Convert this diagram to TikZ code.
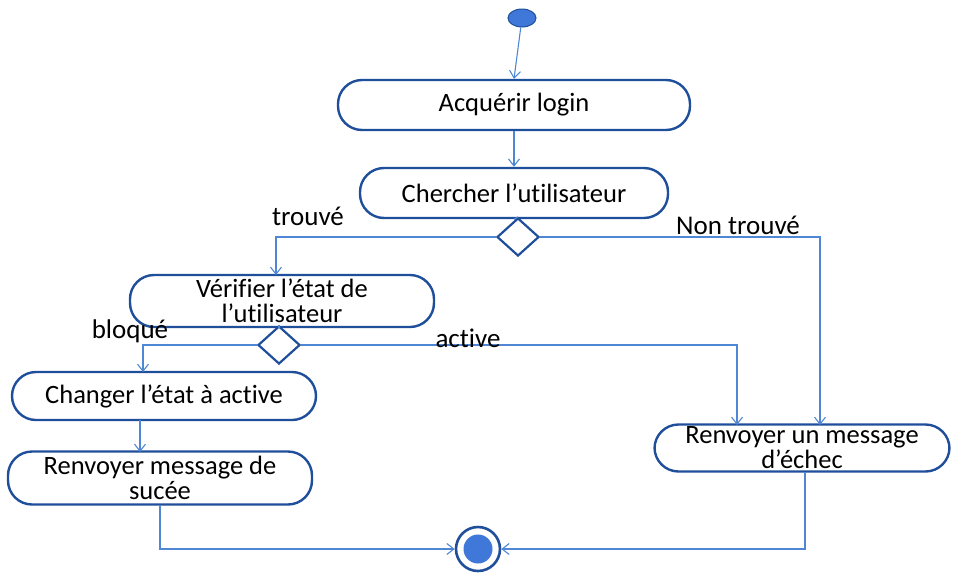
\documentclass[tikz,border=0pt]{standalone}
\usepackage{fontspec}
\setmainfont{Carlito}[Ligatures=NoCommon]
\usetikzlibrary{shapes.geometric,arrows.meta}
\definecolor{edgeblue}{HTML}{1F4E9A}
\definecolor{flowblue}{HTML}{4F87D4}
\definecolor{dotblue}{HTML}{3F78D8}
\tikzset{
  act/.style={draw=edgeblue, line width=2.4pt, rounded corners=24pt, align=center,
              font=\fontsize{26.5}{25}\selectfont, inner sep=0pt},
  choice/.style={diamond, draw=edgeblue, line width=2.2pt, inner sep=0pt,
                 minimum width=42pt, minimum height=38pt},
  flow/.style={draw=flowblue, line width=1.1pt, -{Straight Barb[length=7pt,width=11pt]}},
  plain/.style={draw=flowblue, line width=1.1pt},
  guard/.style={font=\fontsize{27}{28}\selectfont, inner sep=0pt}
}
\begin{document}
\begin{tikzpicture}[x=1pt,y=-1pt]
\useasboundingbox (0,0) rectangle (953,576);

% initial and final states
\node[ellipse, fill=dotblue, draw=edgeblue, line width=1pt,
      minimum width=28pt, minimum height=18pt, inner sep=0pt] (start) at (522,18) {};
\node[circle, draw=edgeblue, line width=2.6pt, minimum size=44pt, inner sep=0pt] (stop) at (478,549) {};
\node[circle, fill=dotblue, minimum size=29pt, inner sep=0pt] (stopdot) at (stop.center) {};

% activities
\node[act, minimum width=352pt, minimum height=50pt] (acq) at (514,105) {Acquérir login};
\node[act, minimum width=308pt, minimum height=50pt] (cherch) at (514,193) {Chercher l’utilisateur};
\node[act, minimum width=304pt, minimum height=52pt] (verif) at (282,301) {Vérifier l’état de\\l’utilisateur};
\node[act, minimum width=304pt, minimum height=48pt] (change) at (164,396) {Changer l’état à active};
\node[act, minimum width=304pt, minimum height=53pt] (succes) at (160,478) {Renvoyer message de\\sucée};
\node[act, minimum width=295pt, minimum height=47pt] (echec) at (802,448) {Renvoyer un message\\d’échec};

% decisions
\node[choice] (d1) at (518,237) {};
\node[choice] (d2) at (279,345) {};

% entry points on the box edges
\coordinate (verifIn) at (276,275);
\coordinate (changeIn) at (143,372);
\coordinate (changeOut) at (140,420);
\coordinate (succesIn) at (140,452);
\coordinate (echecInA) at (737,425);
\coordinate (echecInB) at (820,425);
\coordinate (succesOut) at (160,505);
\coordinate (echecOut) at (805,472);

% connectors
\draw[flow] (start) -- (acq.north);
\draw[flow] (acq.south) -- (cherch.north);
\draw[plain] (cherch.south) -- (d1.north);
\draw[flow] (d1.west) -| (verifIn);
\draw[flow] (d1.east) -| (echecInB);
\draw[plain] (verif.south -| d2.north) -- (d2.north);
\draw[flow] (d2.west) -| (changeIn);
\draw[flow] (d2.east) -| (echecInA);
\draw[flow] (changeOut) -- (succesIn);
\draw[flow] (succesOut) |- (stop.west);
\draw[flow] (echecOut) |- (stop.east);

% guards
\node[guard] (gTrouve) at (308,216) {trouvé};
\node[guard] (gNon) at (738,225) {Non trouvé};
\node[guard] (gBloque) at (130,331) {bloqué};
\node[guard] (gActive) at (468,338) {active};
\end{tikzpicture}
\end{document}
